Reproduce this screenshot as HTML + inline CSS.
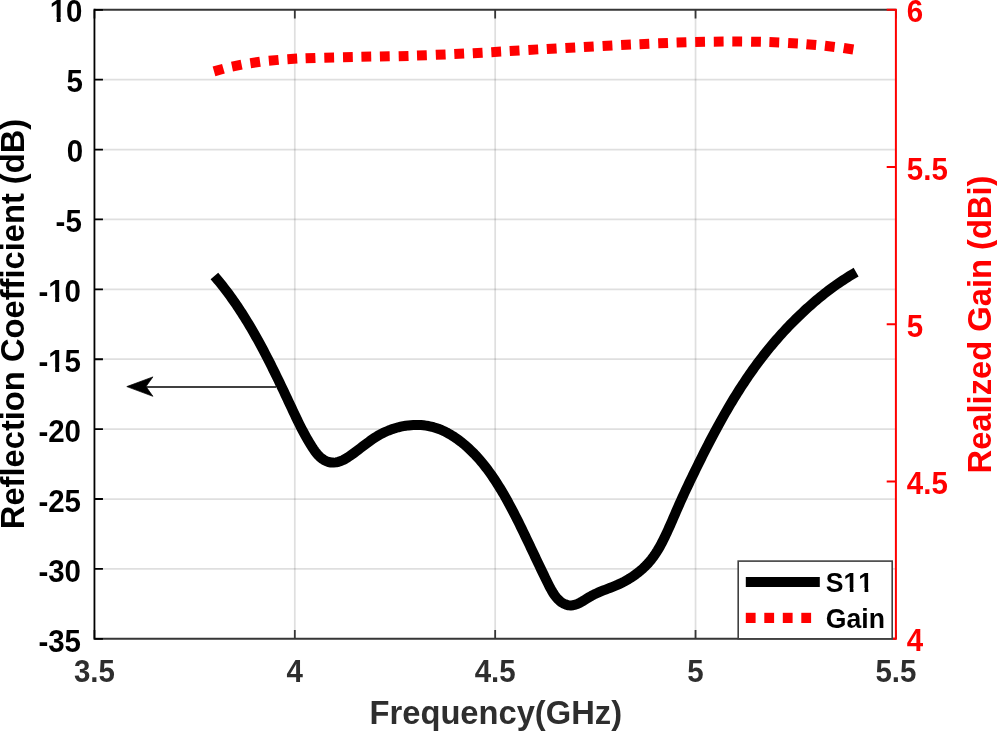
<!DOCTYPE html><html><head><meta charset="utf-8"><style>html,body{margin:0;padding:0;background:#fff;width:997px;height:732px;overflow:hidden}svg{display:block;will-change:transform}text{font-family:'Liberation Sans', sans-serif;font-weight:bold}</style></head><body>
<svg width="997" height="732" viewBox="0 0 997 732">
<rect width="997" height="732" fill="#fff"/>
<path d="M294.81 9.80V638.80" stroke="#262626" stroke-opacity="0.15" stroke-width="1.75" fill="none"/>
<path d="M495.17 9.80V638.80" stroke="#262626" stroke-opacity="0.15" stroke-width="1.75" fill="none"/>
<path d="M695.54 9.80V638.80" stroke="#262626" stroke-opacity="0.15" stroke-width="1.75" fill="none"/>
<path d="M94.45 79.69H895.90" stroke="#262626" stroke-opacity="0.15" stroke-width="1.75" fill="none"/>
<path d="M94.45 149.58H895.90" stroke="#262626" stroke-opacity="0.15" stroke-width="1.75" fill="none"/>
<path d="M94.45 219.47H895.90" stroke="#262626" stroke-opacity="0.15" stroke-width="1.75" fill="none"/>
<path d="M94.45 289.36H895.90" stroke="#262626" stroke-opacity="0.15" stroke-width="1.75" fill="none"/>
<path d="M94.45 359.24H895.90" stroke="#262626" stroke-opacity="0.15" stroke-width="1.75" fill="none"/>
<path d="M94.45 429.13H895.90" stroke="#262626" stroke-opacity="0.15" stroke-width="1.75" fill="none"/>
<path d="M94.45 499.02H895.90" stroke="#262626" stroke-opacity="0.15" stroke-width="1.75" fill="none"/>
<path d="M94.45 568.91H895.90" stroke="#262626" stroke-opacity="0.15" stroke-width="1.75" fill="none"/>
<rect x="213.80" y="65.06" width="9.8" height="10" fill="#f00" transform="rotate(-15.97 218.70 70.06)"/>
<rect x="231.90" y="60.61" width="9.8" height="10" fill="#f00" transform="rotate(-11.49 236.80 65.61)"/>
<rect x="250.30" y="57.50" width="9.8" height="10" fill="#f00" transform="rotate(-7.94 255.20 62.50)"/>
<rect x="268.80" y="55.34" width="9.8" height="10" fill="#f00" transform="rotate(-5.29 273.70 60.34)"/>
<rect x="287.40" y="53.89" width="9.8" height="10" fill="#f00" transform="rotate(-3.41 292.30 58.89)"/>
<rect x="305.60" y="53.10" width="9.8" height="10" fill="#f00" transform="rotate(-2.21 310.50 58.10)"/>
<rect x="324.30" y="52.56" width="9.8" height="10" fill="#f00" transform="rotate(-1.49 329.20 57.56)"/>
<rect x="343.00" y="52.14" width="9.8" height="10" fill="#f00" transform="rotate(-1.16 347.90 57.14)"/>
<rect x="361.40" y="51.71" width="9.8" height="10" fill="#f00" transform="rotate(-1.13 366.30 56.71)"/>
<rect x="379.90" y="51.37" width="9.8" height="10" fill="#f00" transform="rotate(-1.28 384.80 56.37)"/>
<rect x="398.70" y="51.04" width="9.8" height="10" fill="#f00" transform="rotate(-1.57 403.60 56.04)"/>
<rect x="417.00" y="50.31" width="9.8" height="10" fill="#f00" transform="rotate(-1.91 421.90 55.31)"/>
<rect x="435.80" y="49.62" width="9.8" height="10" fill="#f00" transform="rotate(-2.28 440.70 54.62)"/>
<rect x="454.30" y="48.82" width="9.8" height="10" fill="#f00" transform="rotate(-2.62 459.20 53.82)"/>
<rect x="472.80" y="47.92" width="9.8" height="10" fill="#f00" transform="rotate(-2.91 477.70 52.92)"/>
<rect x="491.30" y="46.88" width="9.8" height="10" fill="#f00" transform="rotate(-3.15 496.20 51.88)"/>
<rect x="509.70" y="45.81" width="9.8" height="10" fill="#f00" transform="rotate(-3.31 514.60 50.81)"/>
<rect x="528.40" y="44.67" width="9.8" height="10" fill="#f00" transform="rotate(-3.39 533.30 49.67)"/>
<rect x="546.80" y="43.72" width="9.8" height="10" fill="#f00" transform="rotate(-3.39 551.70 48.72)"/>
<rect x="565.40" y="42.72" width="9.8" height="10" fill="#f00" transform="rotate(-3.33 570.30 47.72)"/>
<rect x="583.90" y="41.70" width="9.8" height="10" fill="#f00" transform="rotate(-3.19 588.80 46.70)"/>
<rect x="602.60" y="40.64" width="9.8" height="10" fill="#f00" transform="rotate(-2.99 607.50 45.64)"/>
<rect x="621.10" y="39.78" width="9.8" height="10" fill="#f00" transform="rotate(-2.73 626.00 44.78)"/>
<rect x="639.50" y="38.96" width="9.8" height="10" fill="#f00" transform="rotate(-2.42 644.40 43.96)"/>
<rect x="658.20" y="38.15" width="9.8" height="10" fill="#f00" transform="rotate(-2.06 663.10 43.15)"/>
<rect x="676.60" y="37.45" width="9.8" height="10" fill="#f00" transform="rotate(-1.64 681.50 42.45)"/>
<rect x="695.20" y="36.97" width="9.8" height="10" fill="#f00" transform="rotate(-1.15 700.10 41.97)"/>
<rect x="713.80" y="36.63" width="9.8" height="10" fill="#f00" transform="rotate(-0.58 718.70 41.63)"/>
<rect x="732.30" y="36.59" width="9.8" height="10" fill="#f00" transform="rotate(0.10 737.20 41.59)"/>
<rect x="751.10" y="36.72" width="9.8" height="10" fill="#f00" transform="rotate(0.94 756.00 41.72)"/>
<rect x="769.40" y="37.25" width="9.8" height="10" fill="#f00" transform="rotate(1.95 774.30 42.25)"/>
<rect x="788.10" y="38.27" width="9.8" height="10" fill="#f00" transform="rotate(3.22 793.00 43.27)"/>
<rect x="806.40" y="39.61" width="9.8" height="10" fill="#f00" transform="rotate(4.79 811.30 44.61)"/>
<rect x="824.90" y="41.34" width="9.8" height="10" fill="#f00" transform="rotate(6.76 829.80 46.34)"/>
<rect x="843.60" y="43.74" width="9.8" height="10" fill="#f00" transform="rotate(9.25 848.50 48.74)"/>
<path d="M214.40 276.00 L216.07 277.96 L217.72 279.94 L219.36 281.93 L220.97 283.93 L222.57 285.94 L224.15 287.96 L225.71 290.00 L227.25 292.04 L228.78 294.10 L230.29 296.17 L231.79 298.24 L233.27 300.33 L234.73 302.43 L236.18 304.54 L237.61 306.66 L239.03 308.79 L240.44 310.92 L241.83 313.07 L243.20 315.22 L244.57 317.39 L245.92 319.56 L247.25 321.74 L248.58 323.92 L249.89 326.12 L251.19 328.32 L252.48 330.53 L253.76 332.74 L255.03 334.96 L256.28 337.19 L257.53 339.42 L258.77 341.66 L259.99 343.91 L261.21 346.16 L262.42 348.42 L263.62 350.68 L264.81 352.95 L265.99 355.22 L267.17 357.49 L268.34 359.77 L269.50 362.05 L270.65 364.34 L271.80 366.63 L272.94 368.92 L274.08 371.22 L275.21 373.52 L276.33 375.82 L277.45 378.12 L278.57 380.43 L279.68 382.74 L280.79 385.05 L281.89 387.36 L283.00 389.68 L284.09 391.99 L285.19 394.31 L286.28 396.63 L287.38 398.95 L288.47 401.27 L289.56 403.58 L290.64 405.90 L291.73 408.22 L292.82 410.54 L293.91 412.86 L295.00 415.17 L296.10 417.48 L297.21 419.78 L298.33 422.08 L299.46 424.37 L300.61 426.65 L301.77 428.92 L302.95 431.18 L304.14 433.43 L305.36 435.66 L306.61 437.88 L307.87 440.08 L309.17 442.27 L310.49 444.44 L311.86 446.60 L313.27 448.76 L314.75 450.91 L316.31 452.99 L317.99 454.97 L319.81 456.82 L321.79 458.49 L323.93 459.94 L326.21 461.12 L328.58 461.99 L331.03 462.51 L333.53 462.62 L336.04 462.37 L338.50 461.81 L340.90 461.00 L343.23 459.96 L345.51 458.75 L347.74 457.40 L349.93 455.94 L352.08 454.42 L354.20 452.87 L356.30 451.30 L358.37 449.72 L360.44 448.13 L362.50 446.55 L364.55 444.98 L366.61 443.43 L368.68 441.90 L370.77 440.40 L372.88 438.95 L375.01 437.54 L377.18 436.19 L379.38 434.91 L381.63 433.69 L383.92 432.55 L386.24 431.48 L388.60 430.48 L390.99 429.56 L393.41 428.72 L395.85 427.96 L398.31 427.28 L400.80 426.68 L403.29 426.17 L405.81 425.74 L408.33 425.41 L410.86 425.16 L413.39 425.00 L415.93 424.93 L418.46 424.96 L420.99 425.08 L423.51 425.30 L426.02 425.62 L428.52 426.04 L431.00 426.57 L433.47 427.19 L435.91 427.92 L438.32 428.76 L440.71 429.69 L443.07 430.72 L445.41 431.84 L447.71 433.04 L449.98 434.31 L452.22 435.67 L454.42 437.08 L456.59 438.57 L458.72 440.11 L460.82 441.70 L462.87 443.34 L464.89 445.02 L466.86 446.74 L468.78 448.49 L470.66 450.27 L472.50 452.07 L474.30 453.89 L476.05 455.74 L477.77 457.62 L479.45 459.52 L481.09 461.44 L482.70 463.38 L484.28 465.34 L485.83 467.33 L487.35 469.33 L488.85 471.36 L490.32 473.41 L491.77 475.47 L493.20 477.56 L494.61 479.66 L496.00 481.78 L497.38 483.92 L498.73 486.08 L500.07 488.25 L501.39 490.43 L502.70 492.63 L503.99 494.84 L505.26 497.06 L506.52 499.29 L507.77 501.54 L509.00 503.79 L510.22 506.06 L511.43 508.33 L512.63 510.61 L513.82 512.90 L515.00 515.19 L516.17 517.49 L517.32 519.79 L518.48 522.10 L519.62 524.41 L520.75 526.72 L521.88 529.03 L523.01 531.35 L524.12 533.66 L525.24 535.98 L526.34 538.29 L527.45 540.60 L528.55 542.91 L529.65 545.22 L530.74 547.53 L531.84 549.83 L532.93 552.14 L534.02 554.44 L535.11 556.74 L536.20 559.04 L537.29 561.33 L538.38 563.63 L539.47 565.92 L540.57 568.21 L541.66 570.49 L542.76 572.78 L543.87 575.06 L544.97 577.34 L546.08 579.61 L547.19 581.88 L548.31 584.15 L549.46 586.41 L550.64 588.66 L551.88 590.90 L553.21 593.10 L554.64 595.24 L556.20 597.28 L557.89 599.19 L559.74 600.93 L561.75 602.45 L563.91 603.72 L566.16 604.69 L568.48 605.30 L570.81 605.50 L573.12 605.28 L575.43 604.69 L577.73 603.80 L580.03 602.67 L582.32 601.37 L584.62 599.97 L586.92 598.53 L589.23 597.12 L591.55 595.80 L593.88 594.58 L596.23 593.46 L598.58 592.41 L600.93 591.42 L603.29 590.47 L605.64 589.56 L608.00 588.66 L610.34 587.76 L612.68 586.84 L615.01 585.90 L617.33 584.91 L619.63 583.86 L621.91 582.76 L624.17 581.59 L626.40 580.36 L628.61 579.08 L630.78 577.73 L632.92 576.33 L635.02 574.86 L637.08 573.34 L639.09 571.76 L641.06 570.12 L642.97 568.42 L644.83 566.67 L646.62 564.85 L648.36 562.98 L650.03 561.05 L651.63 559.06 L653.17 557.02 L654.65 554.93 L656.08 552.79 L657.45 550.62 L658.77 548.41 L660.04 546.17 L661.28 543.91 L662.47 541.62 L663.64 539.31 L664.77 536.99 L665.88 534.67 L666.97 532.34 L668.04 530.01 L669.09 527.67 L670.13 525.34 L671.16 523.01 L672.18 520.67 L673.19 518.34 L674.20 516.01 L675.21 513.67 L676.22 511.34 L677.23 509.01 L678.24 506.68 L679.27 504.36 L680.31 502.03 L681.35 499.71 L682.41 497.39 L683.47 495.08 L684.55 492.76 L685.63 490.45 L686.71 488.14 L687.81 485.83 L688.91 483.52 L690.01 481.21 L691.12 478.90 L692.23 476.60 L693.35 474.29 L694.47 471.99 L695.59 469.68 L696.72 467.38 L697.85 465.08 L698.98 462.78 L700.12 460.48 L701.27 458.18 L702.41 455.89 L703.57 453.60 L704.72 451.31 L705.89 449.02 L707.05 446.73 L708.23 444.45 L709.41 442.17 L710.59 439.90 L711.79 437.62 L712.98 435.35 L714.19 433.09 L715.40 430.83 L716.62 428.57 L717.84 426.31 L719.08 424.07 L720.32 421.82 L721.56 419.58 L722.82 417.35 L724.08 415.12 L725.35 412.89 L726.64 410.67 L727.92 408.46 L729.22 406.25 L730.53 404.05 L731.85 401.85 L733.17 399.66 L734.51 397.48 L735.85 395.30 L737.21 393.13 L738.57 390.97 L739.95 388.81 L741.33 386.66 L742.73 384.52 L744.14 382.39 L745.55 380.26 L746.98 378.14 L748.42 376.03 L749.88 373.93 L751.34 371.84 L752.82 369.75 L754.31 367.68 L755.81 365.61 L757.32 363.55 L758.85 361.50 L760.39 359.46 L761.94 357.43 L763.51 355.41 L765.09 353.40 L766.68 351.40 L768.29 349.41 L769.91 347.44 L771.54 345.47 L773.18 343.51 L774.84 341.56 L776.51 339.63 L778.20 337.70 L779.89 335.79 L781.60 333.89 L783.32 332.00 L785.06 330.12 L786.81 328.25 L788.57 326.40 L790.34 324.56 L792.13 322.73 L793.93 320.91 L795.74 319.11 L797.56 317.32 L799.40 315.54 L801.25 313.77 L803.11 312.02 L804.98 310.28 L806.87 308.56 L808.77 306.85 L810.68 305.15 L812.60 303.47 L814.54 301.80 L816.49 300.15 L818.45 298.51 L820.42 296.89 L822.41 295.29 L824.41 293.70 L826.42 292.13 L828.45 290.58 L830.49 289.04 L832.55 287.52 L834.62 286.03 L836.70 284.55 L838.80 283.09 L840.91 281.65 L843.03 280.24 L845.17 278.84 L847.33 277.47 L849.50 276.12 L851.68 274.79 L853.88 273.48 L856.10 272.20" stroke="#000" stroke-width="10" fill="none" stroke-linejoin="round"/>
<path d="M94.45 9.80H895.90 M94.45 638.80H895.90" stroke="#363636" stroke-width="2" fill="none"/>
<path d="M94.45 9.80v8.8 M94.45 638.80v-8.8M294.81 9.80v8.8 M294.81 638.80v-8.8M495.17 9.80v8.8 M495.17 638.80v-8.8M695.54 9.80v8.8 M695.54 638.80v-8.8M895.90 9.80v8.8 M895.90 638.80v-8.8" stroke="#363636" stroke-width="1.8" fill="none"/>
<path d="M94.45 8.80V639.80 M94.45 9.80h8.5M94.45 79.69h8.5M94.45 149.58h8.5M94.45 219.47h8.5M94.45 289.36h8.5M94.45 359.24h8.5M94.45 429.13h8.5M94.45 499.02h8.5M94.45 568.91h8.5M94.45 638.80h8.5" stroke="#000" stroke-width="1.8" fill="none"/>
<path d="M895.90 8.80V639.80 M895.90 481.55h-9.2M895.90 324.30h-9.2M895.90 167.05h-9.2M895.90 9.80h-9.2M895.90 638.80h-3.2" stroke="#f00" stroke-width="2" fill="none"/>
<path d="M276 387H146" stroke="#000" stroke-width="1.7"/>
<path d="M126.8 386.6L152.9 376.9L146 386.6L152.9 396.3Z" fill="#000" stroke="#000" stroke-width="0.7" stroke-linejoin="round"/>
<text transform="translate(94.45 682.00) scale(1 1.085)" font-size="29.5" fill="#2e2e2e" text-anchor="middle">3.5</text>
<text transform="translate(294.81 682.00) scale(1 1.085)" font-size="29.5" fill="#2e2e2e" text-anchor="middle">4</text>
<text transform="translate(495.17 682.00) scale(1 1.085)" font-size="29.5" fill="#2e2e2e" text-anchor="middle">4.5</text>
<text transform="translate(695.54 682.00) scale(1 1.085)" font-size="29.5" fill="#2e2e2e" text-anchor="middle">5</text>
<text transform="translate(895.90 682.00) scale(1 1.085)" font-size="29.5" fill="#2e2e2e" text-anchor="middle">5.5</text>
<text transform="translate(82.50 21.60) scale(1 1.085)" font-size="29.5" fill="#000" text-anchor="end">10</text>
<rect x="50.58" y="17" width="6.08" height="6" fill="#fff"/><rect x="60.73" y="17" width="6.22" height="6" fill="#fff"/>
<text transform="translate(83.00 91.89) scale(1 1.085)" font-size="29.5" fill="#000" text-anchor="end">5</text>
<text transform="translate(83.10 161.58) scale(1 1.085)" font-size="29.5" fill="#000" text-anchor="end">0</text>
<text transform="translate(81.80 232.47) scale(1 1.085)" font-size="29.5" fill="#000" text-anchor="end">-5</text>
<text transform="translate(81.00 302.36) scale(1 1.085)" font-size="29.5" fill="#000" text-anchor="end">-10</text>
<rect x="49.08" y="297" width="6.08" height="6" fill="#fff"/><rect x="59.23" y="297" width="6.22" height="6" fill="#fff"/>
<text transform="translate(81.00 372.24) scale(1 1.085)" font-size="29.5" fill="#000" text-anchor="end">-15</text>
<rect x="49.08" y="367" width="6.08" height="6" fill="#fff"/><rect x="59.23" y="367" width="6.22" height="6" fill="#fff"/>
<text transform="translate(81.00 442.13) scale(1 1.085)" font-size="29.5" fill="#000" text-anchor="end">-20</text>
<text transform="translate(81.00 512.02) scale(1 1.085)" font-size="29.5" fill="#000" text-anchor="end">-25</text>
<text transform="translate(81.00 581.91) scale(1 1.085)" font-size="29.5" fill="#000" text-anchor="end">-30</text>
<text transform="translate(81.00 651.80) scale(1 1.085)" font-size="29.5" fill="#000" text-anchor="end">-35</text>
<text transform="translate(906.80 651.30) scale(1 1.085)" font-size="29.5" fill="#f00">4</text>
<text transform="translate(906.80 494.05) scale(1 1.085)" font-size="29.5" fill="#f00">4.5</text>
<text transform="translate(906.80 336.80) scale(1 1.085)" font-size="29.5" fill="#f00">5</text>
<text transform="translate(906.80 179.55) scale(1 1.085)" font-size="29.5" fill="#f00">5.5</text>
<text transform="translate(906.80 22.30) scale(1 1.085)" font-size="29.5" fill="#f00">6</text>
<text x="495.8" y="724" font-size="32.7" fill="#2e2e2e" text-anchor="middle">Frequency(GHz)</text>
<text transform="translate(24,324) rotate(-90)" x="0" y="0" font-size="32.7" fill="#000" text-anchor="middle">Reflection Coefficient (dB)</text>
<text transform="translate(990.5,324.5) rotate(-90)" x="0" y="0" font-size="32.7" fill="#f00" text-anchor="middle">Realized Gain (dBi)</text>
<rect x="738.2" y="561.1" width="154" height="77.7" fill="#fff" stroke="#404040" stroke-width="1.6"/>
<path d="M745.8 582H819.8" stroke="#000" stroke-width="10"/>
<rect x="745.8" y="612.8" width="9.8" height="10.2" fill="#f00"/>
<rect x="764.3" y="612.8" width="9.8" height="10.2" fill="#f00"/>
<rect x="782.8" y="612.8" width="9.8" height="10.2" fill="#f00"/>
<rect x="801.3" y="612.8" width="9.8" height="10.2" fill="#f00"/>
<text transform="translate(825.8 592.2) scale(1 1.05)" font-size="26.6" fill="#000" style="font-kerning:none">S11</text>
<rect x="844.34" y="588" width="5.48" height="5" fill="#fff"/><rect x="853.49" y="588" width="5.61" height="5" fill="#fff"/>
<rect x="859.13" y="588" width="5.48" height="5" fill="#fff"/><rect x="868.28" y="588" width="5.61" height="5" fill="#fff"/>
<text transform="translate(825.8 628.3) scale(1 1.05)" font-size="26.6" fill="#000">Gain</text>
</svg></body></html>
